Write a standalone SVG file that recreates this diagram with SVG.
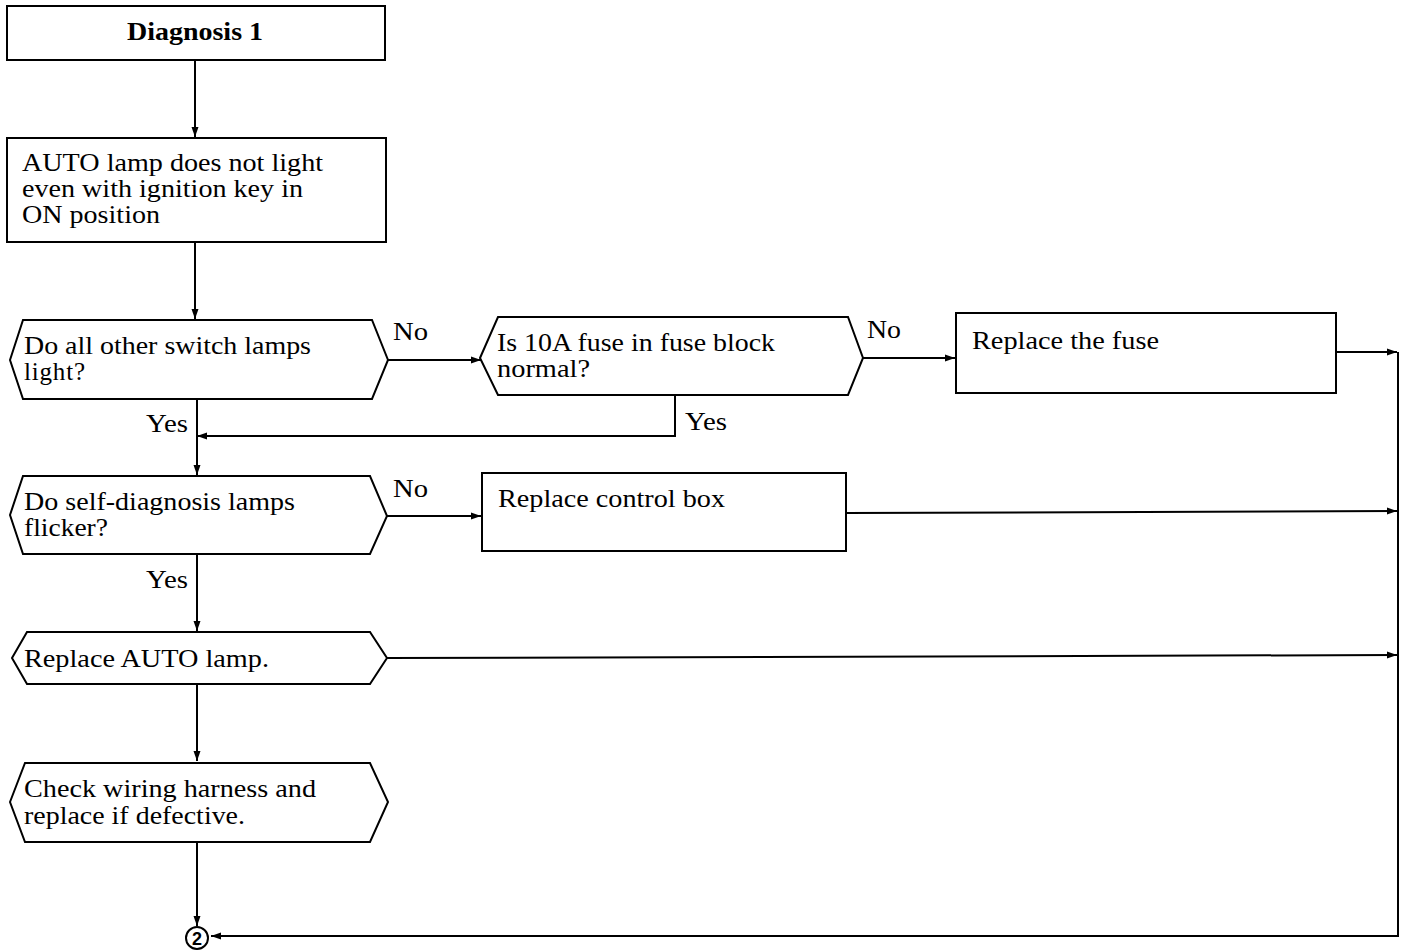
<svg xmlns="http://www.w3.org/2000/svg" width="1407" height="952" viewBox="0 0 1407 952">
  <style>
    .box { fill: #fff; stroke: #000; stroke-width: 2; }
    .ln { fill: none; stroke: #000; stroke-width: 2; }
    .t { font-family: "Liberation Serif", "Times New Roman", serif; font-size: 25px; fill: #000; }
    .b { font-weight: bold; }
  </style>
  <defs>
    <marker id="arr" viewBox="0 0 10 10" refX="10" refY="5" markerWidth="10" markerHeight="10" orient="auto" markerUnits="userSpaceOnUse">
      <path d="M0,1.5 L10,5 L0,8.5 z" fill="#000"/>
    </marker>
  </defs>
  <rect width="1407" height="952" fill="#fff"/>

  <!-- connectors -->
  <g id="connectors">
    <line class="ln" x1="195" y1="60" x2="195" y2="137" marker-end="url(#arr)"/>
    <line class="ln" x1="195" y1="242" x2="195" y2="319" marker-end="url(#arr)"/>
    <line class="ln" x1="388" y1="360" x2="481" y2="360" marker-end="url(#arr)"/>
    <line class="ln" x1="863" y1="358" x2="955" y2="358" marker-end="url(#arr)"/>
    <polyline class="ln" points="675,396 675,436 197,436" marker-end="url(#arr)"/>
    <line class="ln" x1="197" y1="399" x2="197" y2="475" marker-end="url(#arr)"/>
    <line class="ln" x1="387" y1="516" x2="481" y2="516" marker-end="url(#arr)"/>
    <line class="ln" x1="197" y1="555" x2="197" y2="631" marker-end="url(#arr)"/>
    <line class="ln" x1="197" y1="684" x2="197" y2="761" marker-end="url(#arr)"/>
    <line class="ln" x1="197" y1="842" x2="197" y2="926" marker-end="url(#arr)"/>
    <line class="ln" x1="1336" y1="352" x2="1397" y2="352" marker-end="url(#arr)"/>
    <line class="ln" x1="846" y1="513" x2="1397" y2="511" marker-end="url(#arr)"/>
    <line class="ln" x1="387" y1="658" x2="1397" y2="655" marker-end="url(#arr)"/>
    <polyline class="ln" points="1398,352 1398,936 211,936" marker-end="url(#arr)"/>
    <text class="t" x="393" y="340" textLength="35" lengthAdjust="spacingAndGlyphs">No</text>
    <text class="t" x="867" y="338" textLength="34" lengthAdjust="spacingAndGlyphs">No</text>
    <text class="t" x="393" y="497" textLength="35" lengthAdjust="spacingAndGlyphs">No</text>
    <text class="t" x="146" y="432" textLength="42" lengthAdjust="spacingAndGlyphs">Yes</text>
    <text class="t" x="685" y="430" textLength="42" lengthAdjust="spacingAndGlyphs">Yes</text>
    <text class="t" x="146" y="588" textLength="42" lengthAdjust="spacingAndGlyphs">Yes</text>
  </g>

  <g id="n-diag">
    <rect class="box" x="7" y="6" width="378" height="54"/>
    <text class="t b" x="127" y="40" textLength="136" lengthAdjust="spacingAndGlyphs">Diagnosis 1</text>
  </g>

  <g id="n-auto">
    <rect class="box" x="7" y="138" width="379" height="104"/>
    <text class="t" x="22" y="171" textLength="301" lengthAdjust="spacingAndGlyphs">AUTO lamp does not light</text>
    <text class="t" x="22" y="197" textLength="281" lengthAdjust="spacingAndGlyphs">even with ignition key in</text>
    <text class="t" x="22" y="223" textLength="138" lengthAdjust="spacingAndGlyphs">ON position</text>
  </g>

  <g id="n-q1">
    <polygon class="box" points="10,360 23,320 372,320 388,360 372,399 23,399"/>
    <text class="t" x="24" y="354" textLength="287" lengthAdjust="spacingAndGlyphs">Do all other switch lamps</text>
    <text class="t" x="24" y="380" textLength="61" lengthAdjust="spacing">light?</text>
  </g>

  <g id="n-q2">
    <polygon class="box" points="480,358 498,317 848,317 863,358 848,395 498,395"/>
    <text class="t" x="497" y="351" textLength="278" lengthAdjust="spacingAndGlyphs">Is 10A fuse in fuse block</text>
    <text class="t" x="497" y="377" textLength="93" lengthAdjust="spacingAndGlyphs">normal?</text>
  </g>

  <g id="n-fuse">
    <rect class="box" x="956" y="313" width="380" height="80"/>
    <text class="t" x="972" y="349" textLength="187" lengthAdjust="spacingAndGlyphs">Replace the fuse</text>
  </g>

  <g id="n-q3">
    <polygon class="box" points="10,515 23,476 370,476 387,516 370,554 23,554"/>
    <text class="t" x="24" y="510" textLength="271" lengthAdjust="spacingAndGlyphs">Do self-diagnosis lamps</text>
    <text class="t" x="24" y="536" textLength="84" lengthAdjust="spacingAndGlyphs">flicker?</text>
  </g>

  <g id="n-ctrl">
    <rect class="box" x="482" y="473" width="364" height="78"/>
    <text class="t" x="498" y="507" textLength="227" lengthAdjust="spacingAndGlyphs">Replace control box</text>
  </g>

  <g id="n-lamp">
    <polygon class="box" points="12,658 27,632 370,632 387,658 370,684 27,684"/>
    <text class="t" x="24" y="667" textLength="245" lengthAdjust="spacingAndGlyphs">Replace AUTO lamp.</text>
  </g>

  <g id="n-wire">
    <polygon class="box" points="10,802 25,763 370,763 388,802 370,842 25,842"/>
    <text class="t" x="24" y="797" textLength="292" lengthAdjust="spacingAndGlyphs">Check wiring harness and</text>
    <text class="t" x="24" y="824" textLength="221" lengthAdjust="spacingAndGlyphs">replace if defective.</text>
  </g>

  <g id="n-end">
    <circle cx="197" cy="938" r="11" fill="#fff" stroke="#000" stroke-width="2"/>
    <text x="197" y="945" text-anchor="middle" font-family="Liberation Sans, Arial, sans-serif" font-weight="bold" font-size="18">2</text>
  </g>
</svg>
